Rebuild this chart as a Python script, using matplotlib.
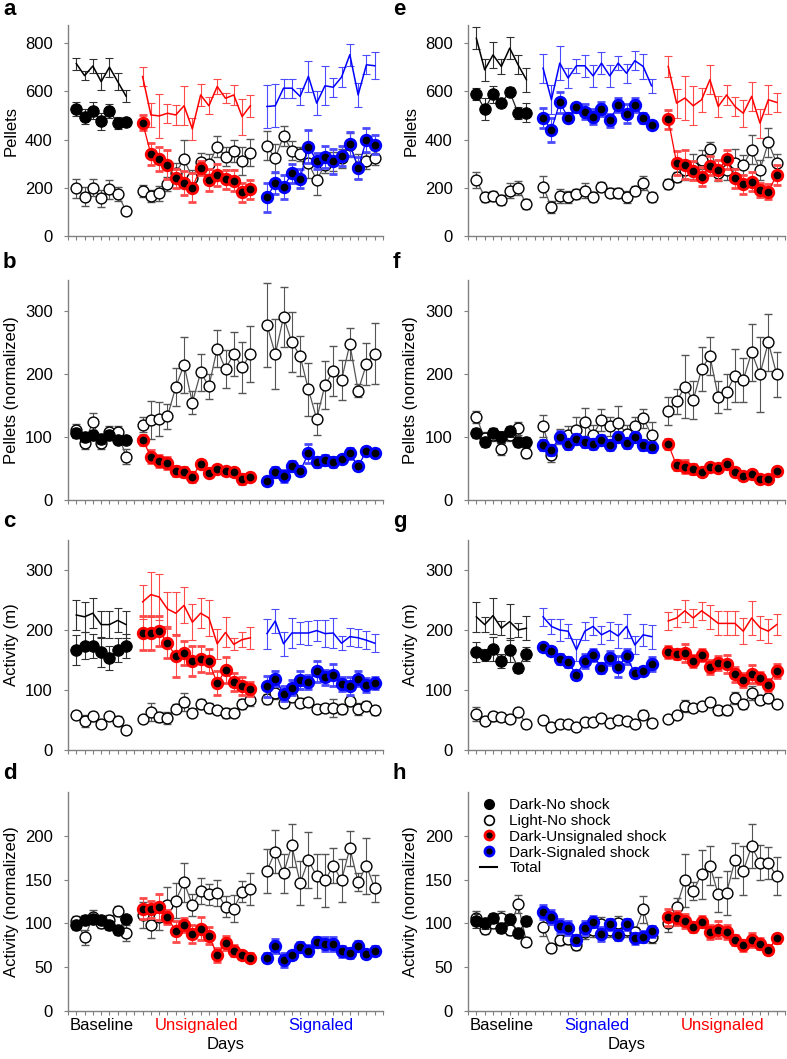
import numpy as np
import matplotlib.pyplot as plt
from matplotlib.lines import Line2D

plt.rcParams['font.family'] = ['Liberation Sans', 'DejaVu Sans']

RED = '#ff0000'
BLUE = '#0000ff'
GREY = '#808080'

# days per phase: baseline, phase 2, phase 3
phase_len = [7, 14, 14]
phase_start = [1, 9, 24]

# ---- panel a : pellets (left column: baseline, unsignaled, signaled)
a_total = [715, 665, 705, 640, 700, 640, 580,
           661, 502, 498, 509, 502, 540, 444, 585, 540, 620, 571, 585, 495, 540,
           537, 540, 613, 613, 579, 662, 551, 623, 617, 659, 752, 585, 710, 706]
a_total_err = [25, 20, 30, 35, 40, 35, 25,
               40, 50, 90, 40, 40, 80, 45, 45, 35, 30, 20, 40, 75, 45,
               90, 90, 40, 40, 35, 65, 50, 80, 40, 40, 45, 50, 40, 55]
a_dark = [526, 495, 519, 475, 519, 468, 471,
          470, 339, 318, 295, 239, 221, 201, 281, 231, 253, 235, 230, 181, 194,
          161, 219, 202, 260, 237, 371, 311, 329, 309, 332, 381, 281, 399, 378]
a_dark_err = [30, 30, 35, 35, 30, 25, 15,
              30, 45, 50, 60, 40, 50, 60, 30, 45, 45, 40, 45, 40, 40,
              60, 45, 50, 40, 40, 70, 35, 45, 50, 40, 50, 45, 50, 40]
a_light = [198, 163, 201, 156, 194, 174, 104,
           188, 166, 177, 215, 263, 318, 242, 305, 298, 371, 329, 353, 311, 346,
           374, 322, 415, 354, 339, 302, 232, 295, 309, 322, 378, 288, 311, 325]
a_light_err = [40, 40, 35, 35, 40, 30, 15,
               25, 25, 30, 30, 40, 80, 30, 40, 40, 45, 40, 45, 60, 55,
               60, 60, 40, 40, 30, 60, 60, 35, 40, 40, 50, 50, 35, 30]

# ---- panel b : pellets normalized
b_dark = [106, 100, 104, 97, 104, 95, 95,
          96, 69, 62, 59, 46, 44, 37, 58, 43, 49, 46, 44, 33, 37,
          30, 44, 38, 54, 46, 74, 61, 64, 61, 66, 74, 54, 78, 75]
b_dark_err = [8, 8, 8, 8, 8, 6, 6,
              8, 10, 10, 10, 8, 8, 8, 6, 6, 6, 6, 6, 8, 6,
              6, 8, 10, 8, 6, 15, 8, 8, 8, 6, 8, 6, 6, 6]
b_light = [111, 91, 124, 91, 108, 108, 69,
           120, 127, 129, 133, 180, 215, 155, 203, 181, 241, 208, 233, 211, 232,
           279, 232, 291, 251, 229, 176, 129, 183, 205, 191, 248, 174, 216, 233]
b_light_err = [10, 10, 15, 10, 10, 10, 12,
               12, 30, 27, 20, 30, 45, 18, 30, 20, 30, 30, 35, 40, 45,
               67, 56, 48, 48, 32, 42, 25, 38, 40, 32, 25, 10, 33, 48]

# ---- panel c : activity (m)
c_total = [225, 222, 228, 209, 209, 216, 209,
           247, 259, 255, 235, 228, 241, 213, 228, 220, 177, 196, 176, 184, 187,
           194, 215, 177, 195, 195, 195, 199, 194, 195, 178, 189, 187, 183, 178]
c_total_err = [25, 25, 25, 22, 22, 20, 22,
               28, 38, 38, 28, 35, 30, 30, 25, 30, 25, 25, 10, 12, 18,
               25, 20, 20, 25, 18, 20, 18, 22, 25, 12, 15, 15, 15, 15]
c_dark = [167, 174, 174, 163, 153, 167, 174,
          195, 195, 199, 178, 156, 162, 148, 152, 148, 111, 133, 113, 106, 102,
          106, 119, 94, 104, 116, 113, 131, 121, 125, 110, 106, 119, 108, 111]
c_dark_err = [25, 22, 20, 25, 20, 20, 20,
              28, 28, 25, 25, 35, 20, 25, 22, 20, 20, 22, 15, 15, 12,
              18, 12, 12, 12, 15, 12, 18, 12, 18, 12, 15, 12, 12, 10]
c_light = [59, 48, 56, 44, 56, 48, 34,
           51, 64, 55, 54, 69, 80, 62, 77, 70, 66, 62, 62, 77, 84,
           85, 95, 79, 89, 79, 80, 69, 70, 70, 68, 82, 68, 73, 66]
c_light_err = [6, 10, 8, 6, 6, 8, 6,
               6, 15, 8, 10, 8, 15, 6, 8, 8, 6, 8, 6, 8, 10,
               8, 10, 8, 6, 8, 6, 6, 6, 15, 8, 8, 10, 8, 8]

# ---- panel d : activity normalized
d_dark = [98, 104, 105, 104, 98, 92, 105,
          117, 116, 119, 107, 91, 98, 88, 94, 86, 64, 78, 69, 64, 61,
          61, 74, 58, 64, 73, 69, 79, 76, 76, 68, 66, 74, 65, 69]
d_dark_err = [6, 6, 6, 5, 5, 5, 5,
              12, 10, 15, 8, 12, 8, 10, 13, 10, 8, 8, 6, 5, 5,
              5, 8, 8, 5, 6, 6, 6, 8, 8, 6, 6, 6, 5, 5]
d_light = [103, 84, 107, 101, 104, 114, 89,
           110, 98, 107, 121, 126, 147, 121, 137, 133, 135, 119, 117, 136, 139,
           160, 182, 157, 189, 146, 172, 154, 149, 166, 149, 186, 147, 166, 140]
d_light_err = [5, 9, 8, 6, 6, 6, 9,
               15, 15, 15, 20, 20, 22, 12, 15, 12, 15, 12, 15, 12, 18,
               25, 25, 22, 25, 25, 32, 25, 30, 20, 25, 20, 10, 32, 15]

# ---- panel e : pellets (right column: baseline, signaled, unsignaled)
e_total = [820, 689, 751, 703, 779, 710, 648,
           696, 565, 717, 655, 706, 706, 664, 717, 664, 717, 675, 727, 703, 623,
           703, 551, 572, 540, 565, 648, 537, 585, 537, 509, 579, 468, 565, 554]
e_total_err = [45, 45, 55, 30, 45, 40, 50,
               60, 60, 70, 40, 30, 45, 45, 45, 45, 30, 40, 40, 50, 30,
               45, 60, 90, 80, 50, 60, 45, 40, 40, 55, 60, 60, 60, 40]
e_dark = [588, 526, 588, 551, 599, 509, 512,
          489, 440, 554, 491, 533, 516, 495, 526, 479, 544, 507, 544, 489, 461,
          484, 304, 295, 271, 246, 292, 274, 318, 239, 215, 226, 191, 184, 253]
e_dark_err = [25, 45, 35, 15, 20, 25, 40,
              40, 50, 45, 20, 20, 30, 30, 30, 25, 30, 40, 30, 20, 15,
              40, 50, 60, 40, 40, 40, 40, 40, 40, 40, 40, 30, 30, 40]
e_light = [232, 163, 166, 149, 188, 198, 133,
           205, 119, 166, 161, 174, 188, 161, 205, 180, 177, 161, 188, 219, 163,
           216, 246, 274, 288, 316, 361, 260, 274, 302, 295, 357, 274, 388, 302]
e_light_err = [35, 20, 20, 20, 30, 30, 20,
               45, 25, 30, 25, 20, 30, 20, 20, 20, 20, 25, 20, 30, 20,
               20, 20, 40, 50, 40, 30, 30, 40, 60, 40, 60, 40, 60, 40]

# ---- panel f : pellets normalized
f_dark = [106, 93, 106, 100, 109, 92, 92,
          88, 80, 100, 89, 97, 93, 89, 96, 87, 100, 91, 100, 88, 84,
          89, 55, 53, 50, 44, 53, 51, 58, 45, 38, 42, 34, 33, 46]
f_dark_err = [8, 8, 8, 10, 8, 8, 8,
              8, 8, 10, 8, 8, 8, 8, 8, 8, 8, 8, 8, 8, 8,
              8, 8, 10, 8, 6, 6, 6, 6, 6, 6, 6, 6, 6, 6]
f_light = [132, 98, 104, 81, 104, 114, 75,
           118, 71, 101, 103, 112, 124, 104, 127, 117, 123, 105, 117, 130, 104,
           142, 157, 180, 159, 208, 229, 164, 172, 198, 191, 235, 200, 251, 200]
f_light_err = [10, 10, 10, 10, 10, 10, 8,
               18, 10, 12, 15, 20, 22, 15, 18, 15, 27, 15, 15, 15, 20,
               22, 20, 50, 30, 35, 30, 25, 28, 42, 35, 45, 60, 45, 36]

# ---- panel g : activity (m)
g_total = [222, 209, 224, 203, 214, 200, 203,
           222, 206, 200, 198, 167, 198, 206, 192, 199, 190, 206, 175, 192, 189,
           215, 220, 232, 220, 232, 222, 211, 211, 211, 198, 220, 204, 198, 209]
g_total_err = [25, 12, 30, 12, 30, 12, 20,
               15, 12, 18, 12, 18, 15, 15, 15, 15, 20, 20, 15, 18, 20,
               15, 15, 18, 15, 15, 20, 20, 20, 20, 22, 28, 20, 20, 18]
g_dark = [163, 158, 169, 148, 167, 137, 160,
          171, 165, 152, 147, 125, 148, 159, 137, 153, 139, 156, 128, 132, 143,
          163, 160, 161, 148, 159, 138, 145, 143, 126, 117, 126, 120, 109, 132]
g_dark_err = [17, 10, 20, 12, 20, 8, 12,
              6, 6, 8, 8, 6, 12, 10, 8, 12, 17, 12, 6, 6, 12,
              10, 8, 15, 10, 10, 12, 12, 15, 12, 12, 15, 10, 10, 12]
g_light = [60, 49, 56, 55, 51, 64, 43,
           50, 38, 43, 44, 38, 46, 46, 54, 45, 50, 48, 44, 59, 45,
           51, 59, 73, 70, 73, 80, 66, 66, 87, 76, 95, 84, 86, 77]
g_light_err = [12, 6, 8, 6, 6, 6, 6,
               6, 4, 5, 5, 4, 5, 5, 5, 5, 6, 5, 5, 8, 6,
               5, 5, 10, 6, 6, 6, 8, 8, 10, 8, 12, 8, 8, 6]

# ---- panel h : activity normalized
h_dark = [103, 100, 106, 95, 105, 89, 103,
          113, 107, 97, 95, 81, 95, 102, 88, 99, 87, 99, 83, 85, 91,
          107, 106, 103, 96, 102, 90, 93, 90, 81, 75, 81, 77, 70, 83]
h_dark_err = [8, 6, 6, 6, 6, 6, 6,
              8, 8, 8, 8, 6, 8, 6, 8, 6, 6, 6, 6, 6, 6,
              10, 8, 8, 6, 6, 8, 10, 8, 6, 6, 8, 6, 5, 5]
h_light = [106, 94, 101, 106, 93, 122, 79,
           96, 72, 81, 82, 75, 90, 93, 99, 93, 100, 92, 90, 116, 84,
           100, 119, 149, 137, 156, 166, 133, 135, 172, 160, 188, 169, 169, 154]
h_light_err = [8, 6, 5, 8, 6, 10, 5,
               10, 5, 6, 5, 5, 8, 8, 8, 8, 8, 8, 6, 15, 6,
               10, 10, 30, 10, 28, 22, 20, 25, 20, 28, 25, 20, 18, 22]

left_colors = ['black', RED, BLUE]
right_colors = ['black', BLUE, RED]
left_phases = ['Baseline', 'Unsignaled', 'Signaled']
right_phases = ['Baseline', 'Signaled', 'Unsignaled']

W, H = 787, 1059


def axRect(left, right, top, bottom):
    return [left / W, 1 - bottom / H, (right - left) / W, (bottom - top) / H]


def errColor(c):
    if c == RED:
        return '#ff4a4a'
    if c == BLUE:
        return '#4a4aff'
    return '#303030'


def drawPanel(ax, colors, dark, dark_err, light, light_err, total=None, total_err=None):
    for p in range(3):
        x = np.arange(phase_start[p], phase_start[p] + phase_len[p])
        i0 = sum(phase_len[:p])
        s = slice(i0, i0 + phase_len[p])
        c = colors[p]
        if total is not None:
            ax.errorbar(x, total[s], yerr=total_err[s], color=c, lw=1.1,
                        ecolor=errColor(c), elinewidth=0.8, capsize=2.8, capthick=0.8, zorder=2)
        ax.errorbar(x, light[s], yerr=light_err[s], color='#555555', lw=0.9,
                    marker='o', ms=7.8, mfc='white', mec='black', mew=1.0,
                    ecolor='#555555', elinewidth=0.8, capsize=2.8, capthick=0.8, zorder=3)
        if p == 0:
            ax.errorbar(x, dark[s], yerr=dark_err[s], color='#222222', lw=0.9,
                        marker='o', ms=8.2, mfc='black', mec='black', mew=0.8,
                        ecolor='#303030', elinewidth=0.8, capsize=2.8, capthick=0.8, zorder=4)
        else:
            ax.errorbar(x, dark[s], yerr=dark_err[s], color=c, lw=0.9,
                        marker='o', ms=7.6, mfc='black', mec=c, mew=2.0,
                        ecolor=errColor(c), elinewidth=0.8, capsize=2.8, capthick=0.8, zorder=4)


def styleAxis(ax, ylim, yticks, ylabel):
    ax.set_xlim(0, 38)
    ax.set_ylim(0, ylim)
    ax.set_xticks(np.arange(0, 39))
    ax.set_xticklabels([])
    ax.set_yticks(yticks)
    ax.tick_params(axis='x', direction='out', length=3, width=0.8, color=GREY)
    ax.tick_params(axis='y', direction='out', length=3, width=0.8, color=GREY,
                   labelsize=12, pad=8)
    for side in ['top', 'right']:
        ax.spines[side].set_visible(False)
    for side in ['left', 'bottom']:
        ax.spines[side].set_color(GREY)
        ax.spines[side].set_linewidth(1.0)
    ax.set_ylabel(ylabel, fontsize=12)
    ax.yaxis.set_label_coords(-0.157, 0.5)


def phaseLabels(ax, names, colors):
    centers = [4, 15.5, 30.5]
    for k in range(3):
        ax.text(centers[k], -0.066, names[k], color=colors[k], fontsize=12,
                ha='center', va='center', transform=ax.get_xaxis_transform())
    ax.text(0.5, -0.155, 'Days', fontsize=12, ha='center', va='center',
            transform=ax.transAxes)


fig = plt.figure(figsize=(W / 100, H / 100), dpi=100)

rows = [(25, 236), (280, 500), (540, 750), (792, 1011)]
left_x = (68, 383)
right_x = (468, 785)

ax_a = fig.add_axes(axRect(left_x[0], left_x[1], *rows[0]))
ax_b = fig.add_axes(axRect(left_x[0], left_x[1], *rows[1]))
ax_c = fig.add_axes(axRect(left_x[0], left_x[1], *rows[2]))
ax_d = fig.add_axes(axRect(left_x[0], left_x[1], *rows[3]))
ax_e = fig.add_axes(axRect(right_x[0], right_x[1], *rows[0]))
ax_f = fig.add_axes(axRect(right_x[0], right_x[1], *rows[1]))
ax_g = fig.add_axes(axRect(right_x[0], right_x[1], *rows[2]))
ax_h = fig.add_axes(axRect(right_x[0], right_x[1], *rows[3]))

drawPanel(ax_a, left_colors, a_dark, a_dark_err, a_light, a_light_err, a_total, a_total_err)
drawPanel(ax_b, left_colors, b_dark, b_dark_err, b_light, b_light_err)
drawPanel(ax_c, left_colors, c_dark, c_dark_err, c_light, c_light_err, c_total, c_total_err)
drawPanel(ax_d, left_colors, d_dark, d_dark_err, d_light, d_light_err)
drawPanel(ax_e, right_colors, e_dark, e_dark_err, e_light, e_light_err, e_total, e_total_err)
drawPanel(ax_f, right_colors, f_dark, f_dark_err, f_light, f_light_err)
drawPanel(ax_g, right_colors, g_dark, g_dark_err, g_light, g_light_err, g_total, g_total_err)
drawPanel(ax_h, right_colors, h_dark, h_dark_err, h_light, h_light_err)

for ax in [ax_a, ax_e]:
    styleAxis(ax, 875, [0, 200, 400, 600, 800], 'Pellets')
for ax in [ax_b, ax_f]:
    styleAxis(ax, 350, [0, 100, 200, 300], 'Pellets (normalized)')
for ax in [ax_c, ax_g]:
    styleAxis(ax, 350, [0, 100, 200, 300], 'Activity (m)')
for ax in [ax_d, ax_h]:
    styleAxis(ax, 250, [0, 50, 100, 150, 200], 'Activity (normalized)')

phaseLabels(ax_d, left_phases, left_colors)
phaseLabels(ax_h, right_phases, right_colors)

# panel letters
letters = [('a', 3, 15), ('b', 3, 268), ('c', 3, 527), ('d', 3, 779),
           ('e', 393, 15), ('f', 393, 268), ('g', 393, 527), ('h', 393, 779)]
for name, px, py in letters:
    fig.text(px / W, 1 - py / H, name, fontsize=16, fontweight='bold',
             ha='left', va='baseline')

# legend in panel h
handles = [
    Line2D([], [], ls='none', marker='o', ms=7, mfc='black', mec='black'),
    Line2D([], [], ls='none', marker='o', ms=7, mfc='white', mec='black', mew=1.2),
    Line2D([], [], ls='none', marker='o', ms=6.5, mfc='black', mec=RED, mew=2),
    Line2D([], [], ls='none', marker='o', ms=6.5, mfc='black', mec=BLUE, mew=2),
    Line2D([], [], color='black', lw=1.5),
]
labels = ['Dark-No shock', 'Light-No shock', 'Dark-Unsignaled shock',
          'Dark-Signaled shock', 'Total']
ax_h.legend(handles, labels, loc='upper left', bbox_to_anchor=(0.02, 1.0),
            frameon=False, fontsize=11, handlelength=1.1, handletextpad=0.8,
            labelspacing=0.12, borderaxespad=0)

fig.savefig('out.png', dpi=100)
